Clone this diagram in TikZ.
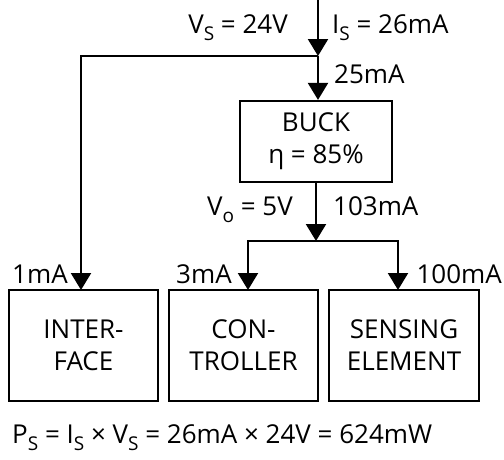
\documentclass[tikz,border=0pt]{standalone}
\usepackage{fontspec}
\setmainfont{Open Sans}
\usetikzlibrary{arrows.meta}
\newcommand\sbs[1]{\raisebox{-0.27em}{\fontsize{19}{19}\selectfont #1}}
\begin{document}
\begin{tikzpicture}[x=1pt,y=1pt,
  every node/.style={font=\fontsize{26}{32}\selectfont},
  blk/.style={draw,line width=2.2pt,minimum width=#1,align=center,inner sep=0pt},
  lbl/.style={inner sep=0pt},
  arr/.style={line width=2.2pt,-{Triangle[width=20pt,length=17pt]}}]
\useasboundingbox (0,0) rectangle (504,-459);
\coordinate (top) at (318,0);
\coordinate (j1) at (318,-56);
\node[blk=152pt,minimum height=81pt] (buck) at (316,-141.5) {BUCK\\η = 85\%};
\coordinate (j2) at (316,-241);
\node[blk=149pt,minimum height=111pt] (ifc) at (83.5,-345.5) {INTER-\\FACE};
\node[blk=149pt,minimum height=111pt] (ctl) at (243.5,-345.5) {CON-\\TROLLER};
\node[blk=150pt,minimum height=111pt] (sen) at (404,-345.5) {SENSING\\ELEMENT};
\coordinate (tifc) at (81,-290);
\coordinate (tctl) at (248,-290);
\coordinate (tsen) at (398,-290);
\draw[arr] (top) -- (j1);
\draw[arr] (j1) -- (buck.north -| j1);
\draw[arr] (j1) -| (tifc);
\draw[arr] (buck.south -| j2) -- (j2);
\draw[arr] (j2) -| (tctl);
\draw[arr] (j2) -| (tsen);
\node[lbl,anchor=base east] (vs) at (288,-33) {V\sbs{S} = 24V};
\node[lbl,anchor=base west] (is) at (332,-33) {I\sbs{S} = 26mA};
\node[lbl,anchor=base west] (i25) at (334,-83) {25mA};
\node[lbl,anchor=base east] (vo) at (293,-215) {V\sbs{o} = 5V};
\node[lbl,anchor=base west] (i103) at (333,-215) {103mA};
\node[lbl,anchor=base west] (i1) at (12,-283) {1mA};
\node[lbl,anchor=base west] (i3) at (176,-283) {3mA};
\node[lbl,anchor=base east] (i100) at (502,-283) {100mA};
\node[lbl,anchor=base west] (ps) at (12,-443) {P\sbs{S} = I\sbs{S} × V\sbs{S} = 26mA × 24V = 624mW};
\end{tikzpicture}
\end{document}
